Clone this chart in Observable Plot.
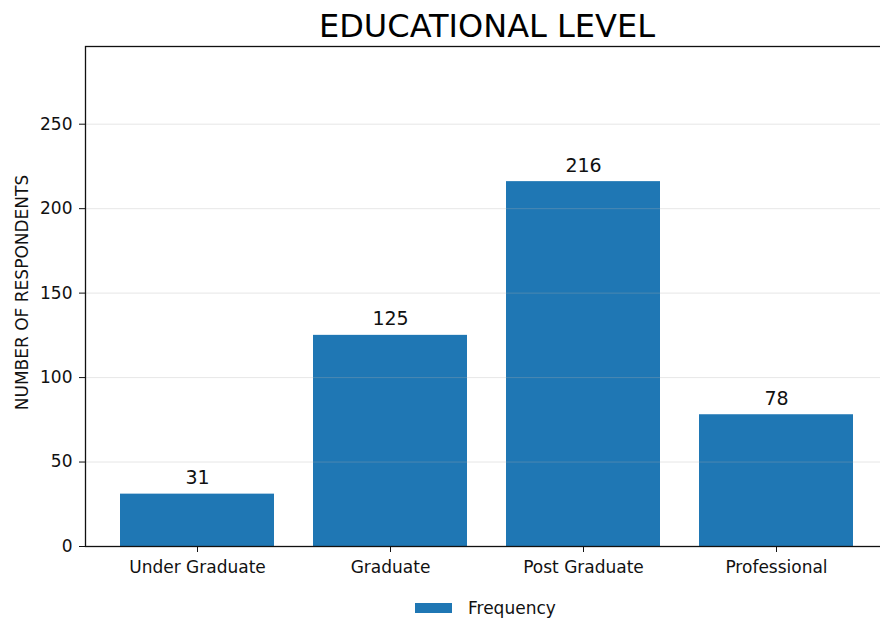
<!DOCTYPE html>
<html>
<head>
<meta charset="utf-8">
<script src="https://cdn.jsdelivr.net/npm/d3@7"></script>
<script src="https://cdn.jsdelivr.net/npm/@observablehq/plot@0.6"></script>
<style>
  html, body { margin: 0; padding: 0; background: #fff; overflow: hidden; }
  #wrap { position: relative; width: 880px; height: 619px; overflow: hidden; font-family: "DejaVu Sans", sans-serif; }
  #legend { position: absolute; left: 415px; top: 598px; height: 20px; display: flex; align-items: center; font-size: 17px; color: #111; }
  #legend .swatch { width: 37px; height: 10px; background: #1f77b4; margin-right: 16px; }
</style>
</head>
<body>
<div id="wrap">
  <div id="chart"></div>
  <div id="legend"><span class="swatch"></span><span>Frequency</span></div>
</div>
<script>
// Respondents by educational level
const categories = ["Under Graduate", "Graduate", "Post Graduate", "Professional"];
const frequency = [31, 125, 216, 78];
const yTicks = [0, 50, 100, 150, 200, 250];
const yMax = 296;
const title = "EDUCATIONAL LEVEL";
const yLabel = "NUMBER OF RESPONDENTS";

const rows = categories.map((c, i) => ({level: c, count: frequency[i]}));
const barColor = "#1f77b4";

// The axes box runs a little past the right edge of the page, so its right side is cut off.
const chart = Plot.plot({
  width: 880,
  height: 619,
  marginTop: 46,
  marginBottom: 73,
  marginLeft: 85,
  marginRight: -8,
  style: {fontFamily: "DejaVu Sans, sans-serif", fontSize: "17px", color: "#111", background: "#fff", overflow: "hidden"},
  x: {type: "band", domain: categories, paddingInner: 0.2, paddingOuter: 0.18, label: null},
  y: {domain: [0, yMax], label: null},
  marks: [
    Plot.barY(rows, {x: "level", y: "count", fill: barColor}),
    Plot.gridY(yTicks.filter(d => d > 0), {stroke: "#b0b0b0", strokeOpacity: 0.3, strokeWidth: 1}),
    Plot.text(rows, {x: "level", y: "count", text: d => String(d.count), lineAnchor: "bottom", dy: -10, fontSize: 19, fill: "#111"}),
    Plot.axisY({ticks: yTicks, tickSize: 6, tickPadding: 7, fontSize: 17, label: null}),
    Plot.axisX({tickSize: 6, tickPadding: 8, fontSize: 17, label: null}),
    Plot.frame({stroke: "#111", strokeWidth: 1.3}),
    Plot.text([title], {frameAnchor: "top", lineAnchor: "bottom", dy: -10, dx: 0, fontSize: 32, fill: "#000"}),
    Plot.text([yLabel], {frameAnchor: "left", textAnchor: "middle", rotate: -90, dx: -63, dy: -4, fontSize: 17, fill: "#111"})
  ]
});
document.getElementById("chart").appendChild(chart);
</script>
</body>
</html>
